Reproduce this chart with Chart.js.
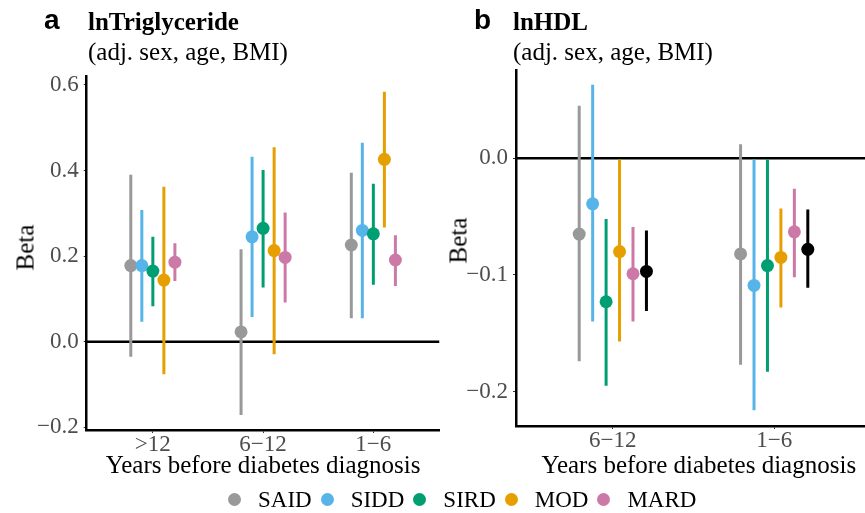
<!DOCTYPE html>
<html>
<head>
<meta charset="utf-8">
<script src="https://cdn.jsdelivr.net/npm/chart.js@4.4.1/dist/chart.umd.min.js"></script>
<style>
  html, body { margin: 0; padding: 0; background: #fff; overflow: hidden; }
  body { width: 865px; height: 513px; position: relative; font-family: 'Liberation Serif', 'Times New Roman', serif; }
  canvas { position: absolute; top: 0; }
  .txt { position: absolute; white-space: nowrap; line-height: 1; color: #000; }
  .letter { font-family: 'Liberation Sans', Arial, sans-serif; font-weight: bold; font-size: 28px; top: 6px; }
  .title { font-weight: bold; font-size: 25px; top: 9px; }
  .sub { font-size: 25px; top: 39px; }
  .beta { font-size: 25px; width: 100px; height: 25px; text-align: center; transform: rotate(-90deg); }
  #legend { position: absolute; left: 228px; top: 488px; height: 22px; display: flex; align-items: center; font-size: 23px; }
  #legend .dot { width: 13px; height: 13px; border-radius: 50%; margin-right: 17px; }
  #legend .lab { margin-right: 9px; line-height: 1; }
</style>
</head>
<body>
<canvas id="chartA" width="446" height="490" style="left:0px"></canvas>
<canvas id="chartB" width="458" height="490" style="left:430px"></canvas>

<div class="txt letter" style="left:44px">a</div>
<div class="txt title" style="left:88px">lnTriglyceride</div>
<div class="txt sub" style="left:88px">(adj. sex, age, BMI)</div>
<div class="txt letter" style="left:474px">b</div>
<div class="txt title" style="left:513px">lnHDL</div>
<div class="txt sub" style="left:513px">(adj. sex, age, BMI)</div>
<div class="txt beta" style="left:-25px; top:235px">Beta</div>
<div class="txt beta" style="left:408px; top:228px">Beta</div>
<div id="legend"></div>

<script>
// ── Shared ────────────────────────────────────────────────
const SERIES = ['SAID', 'SIDD', 'SIRD', 'MOD', 'MARD', 'All'];
const COLORS = ['#999999', '#56B4E9', '#009E73', '#E69F00', '#CC79A7', '#000000'];
const LEGEND_SERIES = ['SAID', 'SIDD', 'SIRD', 'MOD', 'MARD'];
const X_TITLE = 'Years before diabetes diagnosis';

// ── Panel a: lnTriglyceride ──────────────────────────────
const TG_CATS  = ['>12', '6\u221212', '1\u22126'];
const TG_TICKS = [-0.2, 0.0, 0.2, 0.4, 0.6];
// rows = series (SAID, SIDD, SIRD, MOD, MARD), cols = categories
const TG_EST = [
  [0.178, 0.023, 0.226],
  [0.178, 0.245, 0.260],
  [0.165, 0.265, 0.252],
  [0.144, 0.213, 0.426],
  [0.186, 0.197, 0.191],
];
const TG_LO = [
  [-0.035, -0.171, 0.055],
  [0.047, 0.058, 0.055],
  [0.083, 0.127, 0.133],
  [-0.076, -0.029, 0.267],
  [0.142, 0.092, 0.130],
];
const TG_HI = [
  [0.390, 0.216, 0.395],
  [0.308, 0.432, 0.465],
  [0.245, 0.401, 0.369],
  [0.362, 0.454, 0.584],
  [0.230, 0.302, 0.249],
];

// ── Panel b: lnHDL ───────────────────────────────────────
const HDL_CATS  = ['6\u221212', '1\u22126'];
const HDL_TICKS = [-0.2, -0.1, 0.0];
// rows = series (SAID, SIDD, SIRD, MOD, MARD, All)
const HDL_EST = [
  [-0.065, -0.082],
  [-0.039, -0.109],
  [-0.123, -0.092],
  [-0.080, -0.085],
  [-0.099, -0.063],
  [-0.097, -0.078],
];
const HDL_LO = [
  [-0.174, -0.177],
  [-0.140, -0.216],
  [-0.195, -0.183],
  [-0.157, -0.128],
  [-0.140, -0.102],
  [-0.131, -0.111],
];
const HDL_HI = [
  [0.045, 0.012],
  [0.063, -0.001],
  [-0.052, -0.001],
  [-0.001, -0.043],
  [-0.059, -0.026],
  [-0.062, -0.044],
];

const DODGE = 0.5;   // total dodge width per category (ggplot style)
const SERIF = "'Liberation Serif', 'Times New Roman', serif";
const TICK_GREY = '#4d4d4d';

// ── Build datasets: error bars (line w/ gaps) + points ───
function buildDatasets(est, lo, hi, xRange) {
  const n = est.length;
  const step = DODGE / n;
  const sets = [{
    type: 'line',
    data: [{ x: xRange[0], y: 0 }, { x: xRange[1], y: 0 }],
    borderColor: '#000',
    borderWidth: 2.5,
    pointRadius: 0,
    order: 200,
  }];
  est.forEach((row, s) => {
    const off = (s - (n - 1) / 2) * step;
    const bars = [];
    const pts = [];
    row.forEach((v, c) => {
      const x = c + 1 + off;
      bars.push({ x, y: lo[s][c] }, { x, y: hi[s][c] }, { x, y: null });
      pts.push({ x, y: v });
    });
    sets.push({
      type: 'line',
      data: bars,
      borderColor: COLORS[s],
      borderWidth: 3,
      pointRadius: 0,
      spanGaps: false,
      order: 100 - 2 * s,
    });
    sets.push({
      type: 'scatter',
      data: pts,
      backgroundColor: COLORS[s],
      borderWidth: 0,
      pointRadius: 6.5,
      order: 99 - 2 * s,
    });
  });
  return sets;
}

function fmtTick(v) {
  return (v < 0 ? '\u2212' : '') + Math.abs(v).toFixed(1);
}

function makeChart(id, cats, yTicks, est, lo, hi, xRange, yRange, box) {
  return new Chart(document.getElementById(id), {
    type: 'scatter',
    data: { datasets: buildDatasets(est, lo, hi, xRange) },
    options: {
      responsive: false,
      animation: false,
      events: [],
      layout: { padding: { top: box.top, right: box.right, left: 0, bottom: 0 } },
      plugins: { legend: { display: false }, tooltip: { enabled: false } },
      scales: {
        x: {
          type: 'linear',
          min: xRange[0],
          max: xRange[1],
          afterBuildTicks: s => { s.ticks = cats.map((_, i) => ({ value: i + 1 })); },
          afterFit: s => { s.height = box.xh; },
          ticks: {
            autoSkip: false,
            maxRotation: 0,
            padding: 0,
            color: TICK_GREY,
            font: { family: SERIF, size: 23, lineHeight: 1 },
            callback: (v, i) => cats[i],
          },
          grid: { drawOnChartArea: false, tickLength: 3, color: '#333' },
          border: { color: '#000', width: 2.5 },
          title: {
            display: true,
            text: X_TITLE,
            color: '#000',
            font: { family: SERIF, size: 25, lineHeight: 1.2 },
            padding: { top: 0, bottom: 9 },
          },
        },
        y: {
          min: yRange[0],
          max: yRange[1],
          afterBuildTicks: s => { s.ticks = yTicks.map(v => ({ value: v })); },
          afterFit: s => { s.width = box.yw; },
          ticks: {
            padding: 5,
            color: TICK_GREY,
            font: { family: SERIF, size: 23 },
            callback: v => fmtTick(v),
          },
          grid: { drawOnChartArea: false, tickLength: 3, color: '#333' },
          border: { color: '#000', width: 2.5 },
        },
      },
    },
  });
}

makeChart('chartA', TG_CATS, TG_TICKS, TG_EST, TG_LO, TG_HI,
  [0.4, 3.6], [-0.206, 0.619], { top: 76.7, right: 3, yw: 86.7, xh: 60 });
// panel b runs past the right edge of the window, as in the original
makeChart('chartB', HDL_CATS, HDL_TICKS, HDL_EST, HDL_LO, HDL_HI,
  [0.4, 2.665], [-0.2295, 0.0757], { top: 70, right: 1, yw: 86, xh: 64 });

// ── Legend (HTML) ────────────────────────────────────────
const legend = document.getElementById('legend');
LEGEND_SERIES.forEach(name => {
  const i = SERIES.indexOf(name);
  legend.insertAdjacentHTML('beforeend',
    `<span class="dot" style="background:${COLORS[i]}"></span><span class="lab">${name}</span>`);
});
</script>
</body>
</html>
